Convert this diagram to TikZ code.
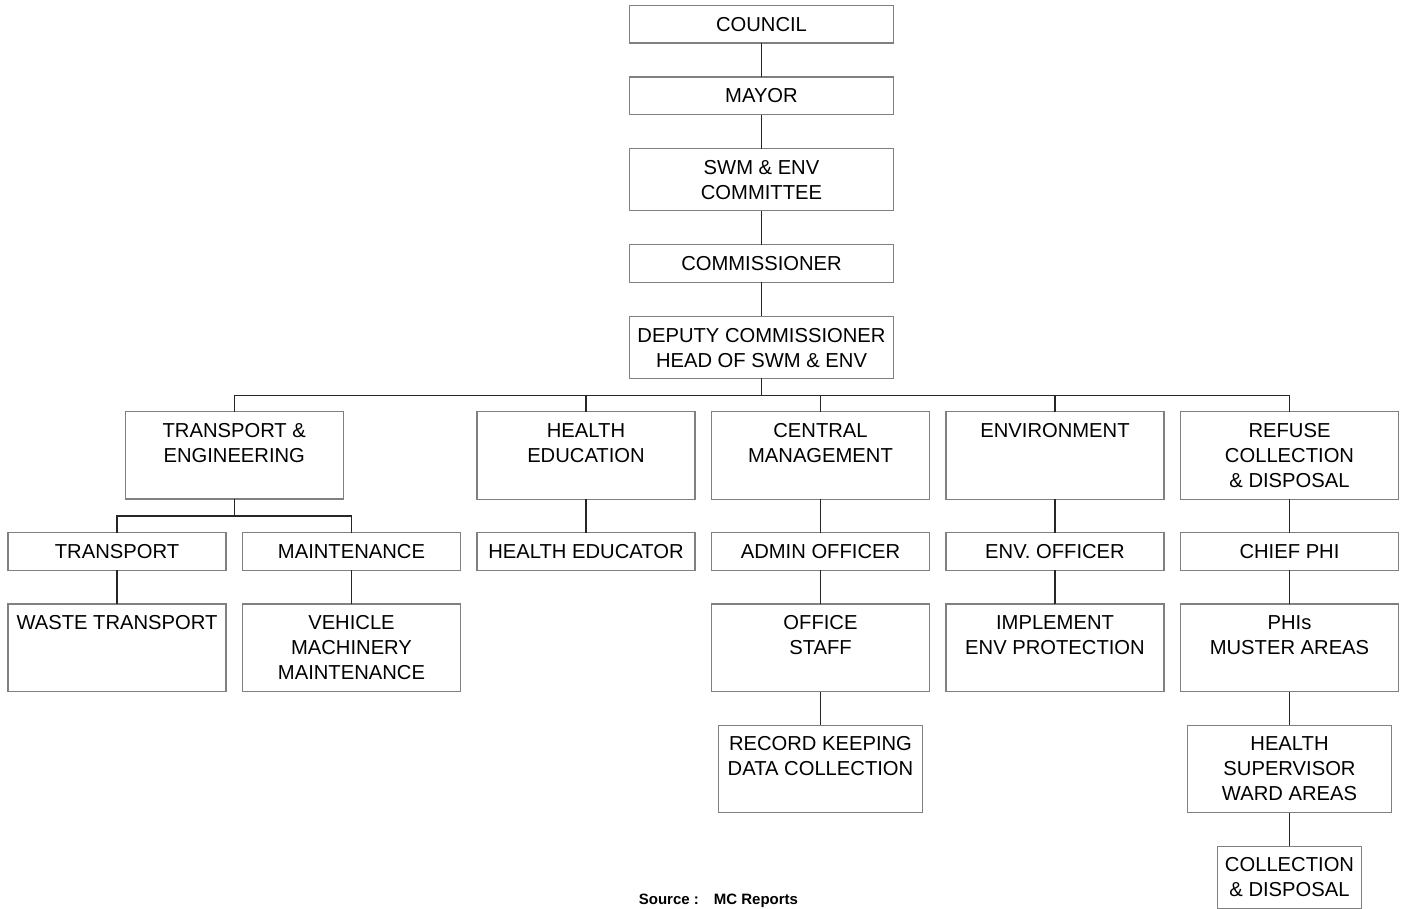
\documentclass[tikz,border=0pt]{standalone}
\usepackage{fontspec}
\setmainfont{Liberation Sans}
\usetikzlibrary{positioning}

\begin{document}
\begin{tikzpicture}[
    x=0.5pt, y=-0.5pt,
    node distance=16.8pt and 8.25pt,
    box/.style={rectangle, draw=black!50, line width=0.6pt, minimum width=109pt, inner sep=0pt, outer sep=0pt, label={[boxtext]90:#1}},
    boxtext/.style={anchor=north, yshift=-5.6pt, inner sep=0pt, align=center, font=\fontsize{10.1}{12.5}\selectfont},
    wide/.style={minimum width=131.7pt},
    oneline/.style={minimum height=18.85pt},
    twoline/.style={minimum height=31pt},
    threeline/.style={minimum height=43.75pt},
    link/.style={draw=black!85, line width=0.65pt}
]
\useasboundingbox (0,0) rectangle (1403,909);

% chain of command
\node[box={COUNCIL}, wide, oneline, anchor=north] (council) at (761.5,5.3) {};
\node[box={MAYOR}, wide, oneline, below=17pt of council] (mayor) {};
\node[box={SWM \& ENV\\COMMITTEE}, wide, twoline, below=17pt of mayor] (swmcom) {};
\node[box={COMMISSIONER}, wide, oneline, below=17pt of swmcom] (commr) {};
\node[box={DEPUTY COMMISSIONER\\HEAD OF SWM \& ENV}, wide, twoline, below=17pt of commr] (deputy) {};

% officers row
\node[box={TRANSPORT}, oneline, anchor=north] (transp) at (117,532.7) {};
\node[box={MAINTENANCE}, oneline, right=of transp] (maint) {};
\node[box={HEALTH EDUCATOR}, oneline, right=of maint] (heducr) {};
\node[box={ADMIN OFFICER}, oneline, right=of heducr] (admin) {};
\node[box={ENV. OFFICER}, oneline, right=of admin] (envoff) {};
\node[box={CHIEF PHI}, oneline, right=of envoff] (chiefphi) {};

% divisions
\node[box={TRANSPORT \&\\ENGINEERING}, threeline, anchor=north] (transeng) at (234.25,411.5) {};
\node[box={HEALTH\\EDUCATION}, threeline, above=of heducr] (healthed) {};
\node[box={CENTRAL\\MANAGEMENT}, threeline, above=of admin] (central) {};
\node[box={ENVIRONMENT}, threeline, above=of envoff] (environ) {};
\node[box={REFUSE\\COLLECTION\\\& DISPOSAL}, threeline, above=of chiefphi] (refuse) {};

% field level
\node[box={WASTE TRANSPORT}, threeline, below=of transp] (wastetr) {};
\node[box={VEHICLE\\MACHINERY\\MAINTENANCE}, threeline, below=of maint] (vehicle) {};
\node[box={OFFICE\\STAFF}, threeline, below=of admin] (staff) {};
\node[box={IMPLEMENT\\ENV PROTECTION}, threeline, below=of envoff] (envprot) {};
\node[box={PHIs\\MUSTER AREAS}, threeline, below=of chiefphi] (phis) {};
\node[box={RECORD KEEPING\\DATA COLLECTION}, threeline, minimum width=101.7pt, below=of staff] (records) {};
\node[box={HEALTH\\SUPERVISOR\\WARD AREAS}, threeline, minimum width=102pt, below=of phis] (hsuper) {};
\node[box={COLLECTION\\\& DISPOSAL}, twoline, minimum width=71.8pt, below=of hsuper] (colldisp) {};

\node[font=\bfseries\fontsize{7.5}{9}\selectfont] (source) at (718.5,901) {Source :\quad MC Reports};

\draw[link] (council) -- (mayor);
\draw[link] (mayor) -- (swmcom);
\draw[link] (swmcom) -- (commr);
\draw[link] (commr) -- (deputy);
\draw[link] (deputy.south) -- ++(0,17) -| (transeng.north);
\draw[link] (deputy.south) -- ++(0,17) -| (healthed.north);
\draw[link] (deputy.south) -- ++(0,17) -| (central.north);
\draw[link] (deputy.south) -- ++(0,17) -| (environ.north);
\draw[link] (deputy.south) -- ++(0,17) -| (refuse.north);
\draw[link] (transeng.south) -- ++(0,17) -| (transp.north);
\draw[link] (transeng.south) -- ++(0,17) -| (maint.north);
\draw[link] (transp) -- (wastetr);
\draw[link] (maint) -- (vehicle);
\draw[link] (healthed) -- (heducr);
\draw[link] (central) -- (admin);
\draw[link] (admin) -- (staff);
\draw[link] (staff) -- (records);
\draw[link] (environ) -- (envoff);
\draw[link] (envoff) -- (envprot);
\draw[link] (refuse) -- (chiefphi);
\draw[link] (chiefphi) -- (phis);
\draw[link] (phis) -- (hsuper);
\draw[link] (hsuper) -- (colldisp);
\end{tikzpicture}
\end{document}
